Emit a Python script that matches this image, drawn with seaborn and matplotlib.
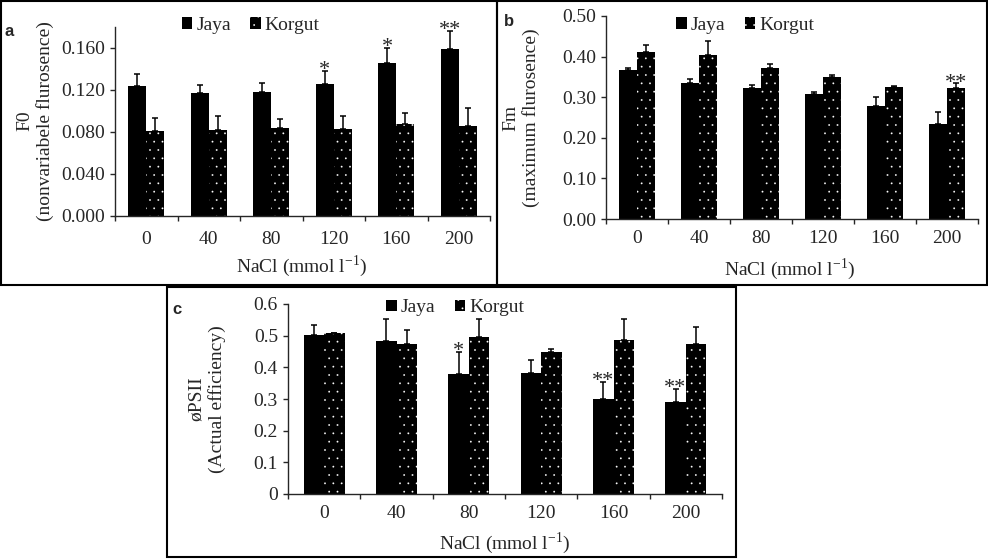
import matplotlib
matplotlib.use('Agg')
import matplotlib.pyplot as plt
import matplotlib.patches as mpatches
import numpy as np
import pandas as pd
import seaborn as sns

# NaCl levels (mmol l-1)
nacl = ['0', '40', '80', '120', '160', '200']
cultivars = ['Jaya', 'Korgut']

# a: F0
a_jaya = [0.124, 0.117, 0.118, 0.126, 0.146, 0.159]
a_jaya_se = [0.011, 0.008, 0.009, 0.012, 0.014, 0.017]
a_korgut = [0.081, 0.082, 0.084, 0.083, 0.088, 0.086]
a_korgut_se = [0.012, 0.013, 0.008, 0.012, 0.010, 0.017]
a_sig_jaya = ['', '', '', '*', '*', '**']
a_sig_korgut = ['', '', '', '', '', '']

# b: Fm
b_jaya = [0.366, 0.334, 0.322, 0.307, 0.279, 0.235]
b_jaya_se = [0.005, 0.010, 0.008, 0.007, 0.021, 0.028]
b_korgut = [0.411, 0.404, 0.371, 0.349, 0.325, 0.322]
b_korgut_se = [0.018, 0.034, 0.011, 0.005, 0.002, 0.012]
b_sig_jaya = ['', '', '', '', '', '']
b_sig_korgut = ['', '', '', '', '', '**']

# c: PSII actual efficiency
c_jaya = [0.503, 0.484, 0.379, 0.383, 0.299, 0.292]
c_jaya_se = [0.032, 0.069, 0.069, 0.040, 0.055, 0.039]
c_korgut = [0.509, 0.475, 0.495, 0.448, 0.486, 0.475]
c_korgut_se = [0.0, 0.043, 0.057, 0.011, 0.067, 0.053]
c_sig_jaya = ['', '', '*', '', '**', '**']
c_sig_korgut = ['', '', '', '', '', '']

sns.set_style('ticks')
plt.rcParams['font.family'] = ['Liberation Serif', 'DejaVu Serif']
plt.rcParams['mathtext.fontset'] = 'custom'
plt.rcParams['mathtext.rm'] = 'Liberation Serif'
plt.rcParams['hatch.linewidth'] = 0.1
plt.rcParams['axes.linewidth'] = 1.0

W, H = 988, 559
FS = 14
xlab = r'NaCl (mmol l$^{\mathregular{-1}}$)'


def frac(x0, y0, x1, y1):
    # pixel box (top-left origin) -> figure fraction rect
    return [x0 / W, 1 - y1 / H, (x1 - x0) / W, (y1 - y0) / H]


def panel(fig, rect, jaya, jaya_se, korgut, korgut_se, sig_j, sig_k,
          ylim, yticks, yfmt, leg_xy, xpad):
    ax = fig.add_axes(rect)
    df = pd.DataFrame({
        'nacl': nacl * 2,
        'cultivar': ['Jaya'] * len(nacl) + ['Korgut'] * len(nacl),
        'value': jaya + korgut,
    })
    sns.barplot(data=df, x='nacl', y='value', hue='cultivar', order=nacl,
                hue_order=cultivars, palette=['black', 'black'], saturation=1,
                width=0.57, gap=0, errorbar=None, legend=False, ax=ax)
    for bar in ax.containers[0]:
        bar.set_linewidth(0)
    for bar in ax.containers[1]:
        bar.set_hatch('..')
        bar.set_edgecolor('white')
        bar.set_linewidth(0)

    for cont, vals, se, sig in zip(ax.containers, [jaya, korgut],
                                   [jaya_se, korgut_se], [sig_j, sig_k]):
        xs = [b.get_x() + b.get_width() / 2 for b in cont]
        ax.errorbar(xs, vals, yerr=[np.zeros(len(se)), se], fmt='none',
                    ecolor='black', elinewidth=1.1, capsize=2.5, capthick=1.1,
                    zorder=3)
        for x, v, e, s in zip(xs, vals, se, sig):
            if s:
                ax.annotate(s, (x, v + e), xytext=(0, -3),
                            textcoords='offset points', ha='center',
                            va='baseline', fontsize=16, annotation_clip=False)

    ax.set_ylim(*ylim)
    ax.set_yticks(yticks)
    ax.set_yticklabels([yfmt.format(t) for t in yticks])
    ax.set_xlim(-0.5, len(nacl) - 0.5)
    ax.set_xticks(range(len(nacl)))
    ax.set_xticklabels(nacl)
    ax.set_xticks(np.arange(-0.5, len(nacl)), minor=True)
    ax.tick_params(axis='x', which='major', length=0, pad=xpad, labelsize=FS)
    ax.tick_params(axis='x', which='minor', length=3.6, width=1, direction='out')
    ax.tick_params(axis='y', length=3.6, width=1, pad=3.6, labelsize=FS,
                   direction='out')
    ax.set_xlabel('')
    ax.set_ylabel('')
    sns.despine(ax=ax)

    handles = [mpatches.Patch(facecolor='black', linewidth=0, label='Jaya'),
               mpatches.Patch(facecolor='black', edgecolor='white', hatch='..',
                              linewidth=0, label='Korgut')]
    ax.legend(handles=handles, loc='center', bbox_to_anchor=leg_xy, ncol=2,
              frameon=False, fontsize=FS, handlelength=0.55, handleheight=0.55,
              handletextpad=0.2, columnspacing=1.0, borderpad=0,
              borderaxespad=0)
    return ax


fig = plt.figure(figsize=(W / 100, H / 100), dpi=100)

# panel a
panel(fig, frac(115, 27, 490, 216), a_jaya, a_jaya_se, a_korgut, a_korgut_se,
      a_sig_jaya, a_sig_korgut, (0, 0.18), np.arange(0, 0.161, 0.04), '{:.3f}',
      (0.362, 1.01), 11)
fig.text(35 / W, 1 - 121 / H, 'F0\n(nonvariabele flurosence)', rotation=90,
         ha='center', va='center', multialignment='center', fontsize=FS)
fig.text(302 / W, 1 - 266 / H, xlab, ha='center', va='center', fontsize=FS)
fig.text(9 / W, 1 - 31 / H, 'a', family='Liberation Sans', weight='bold',
         fontsize=12, ha='center', va='center')

# panel b
panel(fig, frac(606, 16, 978, 219), b_jaya, b_jaya_se, b_korgut, b_korgut_se,
      b_sig_jaya, b_sig_korgut, (0, 0.5), np.arange(0, 0.51, 0.1), '{:.2f}',
      (0.374, 0.955), 8)
fig.text(521 / W, 1 - 118 / H, 'Fm\n(maximum flurosence)', rotation=90,
         ha='center', va='center', multialignment='center', fontsize=FS)
fig.text(790 / W, 1 - 269 / H, xlab, ha='center', va='center', fontsize=FS)
fig.text(509 / W, 1 - 22 / H, 'b', family='Liberation Sans', weight='bold',
         fontsize=12, ha='center', va='center')

# panel c
panel(fig, frac(288, 304, 722, 494), c_jaya, c_jaya_se, c_korgut, c_korgut_se,
      c_sig_jaya, c_sig_korgut, (0, 0.6), np.arange(0, 0.61, 0.1), '{:g}',
      (0.385, 0.979), 8)
fig.text(207 / W, 1 - 399 / H, 'øPSII\n(Actual efficiency)', rotation=90,
         ha='center', va='center', multialignment='center', fontsize=FS)
fig.text(505 / W, 1 - 543 / H, xlab, ha='center', va='center', fontsize=FS)
fig.text(177 / W, 1 - 310 / H, 'c', family='Liberation Sans', weight='bold',
         fontsize=12, ha='center', va='center')

# panel frames
for x0, y0, x1, y1 in [(1, 1, 497, 285), (497, 1, 987, 285), (167, 287, 736, 557)]:
    fig.add_artist(mpatches.Rectangle((x0 / W, 1 - y1 / H), (x1 - x0) / W,
                                      (y1 - y0) / H, transform=fig.transFigure,
                                      fill=False, edgecolor='black', linewidth=1.5))

fig.savefig('out.png', dpi=100)
